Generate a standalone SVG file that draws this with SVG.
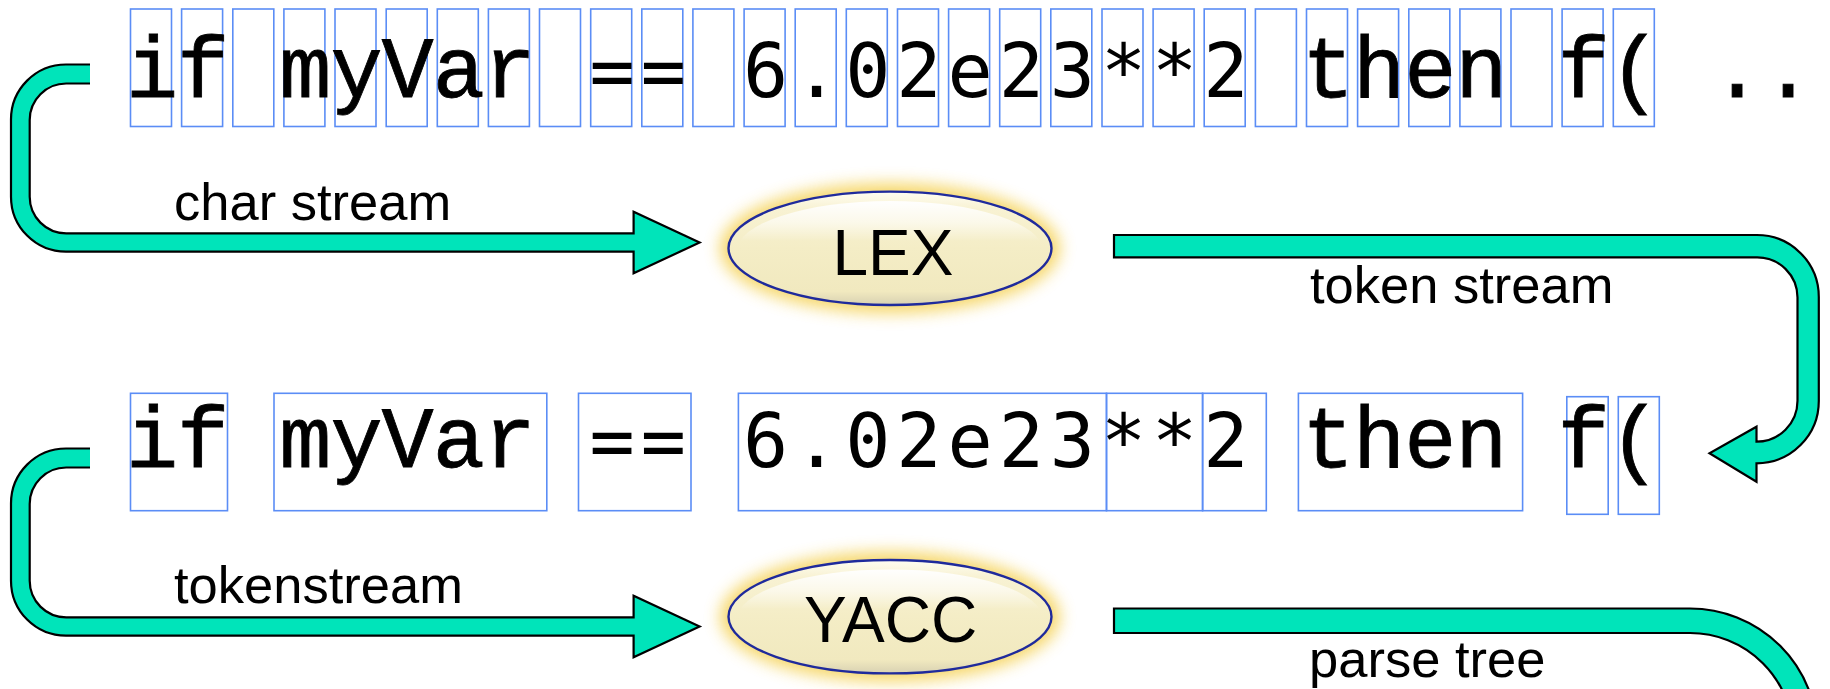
<svg xmlns="http://www.w3.org/2000/svg" width="1830" height="689" viewBox="0 0 1830 689">
  <style>
    .cell { fill: none; stroke: #5B8DF6; stroke-width: 1.6; }
    .mono { font-family: "Liberation Mono", "Courier New", monospace; font-size: 87px; fill: #000; stroke: #000; stroke-width: 0.8; text-anchor: middle; }
    .sans-mono { font-family: "DejaVu Sans Mono", monospace; font-size: 75px; fill: #000; text-anchor: middle; }
    .label { font-family: "Liberation Sans", Arial, sans-serif; font-size: 52.5px; fill: #000; }
    .proc-text { font-family: "Liberation Sans", Arial, sans-serif; font-size: 64px; fill: #000; text-anchor: middle; }
    .band { fill: #00E4BA; stroke: none; }
    .edge { fill: none; stroke: #000; stroke-width: 2.2; stroke-linejoin: miter; }
    .band-closed { fill: #00E4BA; stroke: #000; stroke-width: 2.2; stroke-linejoin: miter; }
    .proc { stroke: #1F2A9C; stroke-width: 2.4; fill: url(#procFill); }
    .halo { fill: #F5D35A; opacity: 0.9; filter: url(#glow); }
    .shine { fill: url(#shineFill); }
  </style>
  <defs>
    <filter id="glow" x="-25%" y="-50%" width="150%" height="200%">
      <feGaussianBlur stdDeviation="8"/>
    </filter>
    <linearGradient id="procFill" x1="0" y1="0" x2="0" y2="1">
      <stop offset="0" stop-color="#FFFDF2"/>
      <stop offset="0.15" stop-color="#F8F2D3"/>
      <stop offset="0.5" stop-color="#F4EDC6"/>
      <stop offset="0.88" stop-color="#F1E9BF"/>
      <stop offset="1" stop-color="#D8D1B2"/>
    </linearGradient>
    <linearGradient id="shineFill" x1="0" y1="0" x2="0" y2="1">
      <stop offset="0" stop-color="#FFFFFF" stop-opacity="0.95"/>
      <stop offset="0.22" stop-color="#FFFFFF" stop-opacity="0.55"/>
      <stop offset="0.4" stop-color="#FFFFFF" stop-opacity="0"/>
    </linearGradient>
  </defs>

  <rect width="1830" height="689" fill="#FFFFFF"/>

  <!-- connectors: thick teal block arrows -->
  <g id="connectors">
    <!-- char stream: source line to LEX -->
    <path class="band" d="M90,64.5 H66 A55,55 0 0 0 11,119.5 V196.7 A55,55 0 0 0 66,251.7 H633.6 V273.3 L699.6,242.5 L633.6,211.7 V233.3 H66.2 A36.5,36.5 0 0 1 29.7,196.8 V120 A36.5,36.5 0 0 1 66.2,83.5 H90 Z"/>
    <path class="edge" d="M90,64.5 H66 A55,55 0 0 0 11,119.5 V196.7 A55,55 0 0 0 66,251.7 H633.6 V273.3 L699.6,242.5 L633.6,211.7 V233.3 H66.2 A36.5,36.5 0 0 1 29.7,196.8 V120 A36.5,36.5 0 0 1 66.2,83.5 H90"/>
    <!-- token stream: LEX to token row -->
    <path class="band-closed" d="M1114,235 H1756.8 A62,62 0 0 1 1818.8,297 V401 A62.3,62.3 0 0 1 1756.5,463.3 V481.7 L1709.5,453.3 L1756.5,426.7 V441.7 A41,41 0 0 0 1797.5,400.7 V297.6 A40.3,40.3 0 0 0 1757.2,257.3 H1114 Z"/>
    <!-- tokenstream: token row to YACC -->
    <path class="band" d="M90,448.5 H66 A55,55 0 0 0 11,503.5 V580.7 A55,55 0 0 0 66,635.7 H633.6 V657.3 L699.6,626.5 L633.6,595.7 V617.3 H66.2 A36.5,36.5 0 0 1 29.7,580.8 V504 A36.5,36.5 0 0 1 66.2,467.5 H90 Z"/>
    <path class="edge" d="M90,448.5 H66 A55,55 0 0 0 11,503.5 V580.7 A55,55 0 0 0 66,635.7 H633.6 V657.3 L699.6,626.5 L633.6,595.7 V617.3 H66.2 A36.5,36.5 0 0 1 29.7,580.8 V504 A36.5,36.5 0 0 1 66.2,467.5 H90"/>
    <!-- parse tree: YACC onwards -->
    <path class="band-closed" d="M1114,608.5 H1690 A127.5,127.5 0 0 1 1817.5,736 V760 H1793 V736 A103,103 0 0 0 1690,633 H1114 Z"/>
  </g>

  <!-- connector labels -->
  <g id="labels">
    <text class="label" x="174" y="220">char stream</text>
    <text class="label" x="1310" y="303.3">token stream</text>
    <text class="label" x="174" y="603.3">tokenstream</text>
    <text class="label" x="1309" y="676.7">parse tree</text>
  </g>

  <!-- character stream: one cell per character -->
  <g id="char-row">
    <rect class="cell" x="130.5" y="9" width="41" height="117.5"/>
    <rect class="cell" x="181.6" y="9" width="41" height="117.5"/>
    <rect class="cell" x="232.8" y="9" width="41" height="117.5"/>
    <rect class="cell" x="283.9" y="9" width="41" height="117.5"/>
    <rect class="cell" x="335.0" y="9" width="41" height="117.5"/>
    <rect class="cell" x="386.2" y="9" width="41" height="117.5"/>
    <rect class="cell" x="437.3" y="9" width="41" height="117.5"/>
    <rect class="cell" x="488.4" y="9" width="41" height="117.5"/>
    <rect class="cell" x="539.5" y="9" width="41" height="117.5"/>
    <rect class="cell" x="590.7" y="9" width="41" height="117.5"/>
    <rect class="cell" x="641.8" y="9" width="41" height="117.5"/>
    <rect class="cell" x="692.9" y="9" width="41" height="117.5"/>
    <rect class="cell" x="744.1" y="9" width="41" height="117.5"/>
    <rect class="cell" x="795.2" y="9" width="41" height="117.5"/>
    <rect class="cell" x="846.3" y="9" width="41" height="117.5"/>
    <rect class="cell" x="897.5" y="9" width="41" height="117.5"/>
    <rect class="cell" x="948.6" y="9" width="41" height="117.5"/>
    <rect class="cell" x="999.7" y="9" width="41" height="117.5"/>
    <rect class="cell" x="1050.8" y="9" width="41" height="117.5"/>
    <rect class="cell" x="1102.0" y="9" width="41" height="117.5"/>
    <rect class="cell" x="1153.1" y="9" width="41" height="117.5"/>
    <rect class="cell" x="1204.2" y="9" width="41" height="117.5"/>
    <rect class="cell" x="1255.4" y="9" width="41" height="117.5"/>
    <rect class="cell" x="1306.5" y="9" width="41" height="117.5"/>
    <rect class="cell" x="1357.6" y="9" width="41" height="117.5"/>
    <rect class="cell" x="1408.8" y="9" width="41" height="117.5"/>
    <rect class="cell" x="1459.9" y="9" width="41" height="117.5"/>
    <rect class="cell" x="1511.0" y="9" width="41" height="117.5"/>
    <rect class="cell" x="1562.1" y="9" width="41" height="117.5"/>
    <rect class="cell" x="1613.3" y="9" width="41" height="117.5"/>
    <text class="mono" x="152 203.13 305.39 356.52 407.65 458.78 509.91" y="96.7">ifmyVar</text>
    <text class="sans-mono" x="612.17 663.3 765.56 816.69 867.82 918.95 970.08 1021.21 1072.34 1123.47 1174.6 1225.73" y="96.7">==6.02e23**2</text>
    <text class="mono" x="1327.99 1379.12 1430.25 1481.38 1583.64 1634.77 1737.03 1788.16" y="96.7">thenf(..</text>
  </g>

  <!-- token stream: one box per token -->
  <g id="token-row">
    <rect class="cell" x="130.5" y="393.3" width="97" height="117.4"/>
    <rect class="cell" x="274" y="393.3" width="272.8" height="117.4"/>
    <rect class="cell" x="578.5" y="393.3" width="112.5" height="117.4"/>
    <rect class="cell" x="738.4" y="393.3" width="368.1" height="117.4"/>
    <rect class="cell" x="1106.5" y="393.3" width="96.1" height="117.4"/>
    <rect class="cell" x="1202.6" y="393.3" width="63.7" height="117.4"/>
    <rect class="cell" x="1298.4" y="393.3" width="224.2" height="117.4"/>
    <rect class="cell" x="1566.8" y="396.7" width="41.4" height="117.6"/>
    <rect class="cell" x="1618.3" y="396.7" width="41" height="117.6"/>
    <text class="mono" x="152 203.13 305.39 356.52 407.65 458.78 509.91" y="466.7">ifmyVar</text>
    <text class="sans-mono" x="612.17 663.3 765.56 816.69 867.82 918.95 970.08 1021.21 1072.34 1123.47 1174.6 1225.73" y="466.7">==6.02e23**2</text>
    <text class="mono" x="1327.99 1379.12 1430.25 1481.38 1583.64 1634.77" y="466.7">thenf(</text>
  </g>

  <!-- lexer -->
  <g id="lex">
    <ellipse class="halo" cx="890" cy="248.3" rx="170" ry="65"/>
    <ellipse class="proc" cx="890" cy="248.3" rx="161.5" ry="56.7"/>
    <ellipse class="shine" cx="890" cy="251" rx="153" ry="50"/>
    <text class="proc-text" x="893" y="275">LEX</text>
  </g>

  <!-- parser -->
  <g id="yacc">
    <ellipse class="halo" cx="890" cy="616.7" rx="170" ry="65"/>
    <ellipse class="proc" cx="890" cy="616.7" rx="161.5" ry="56.7"/>
    <ellipse class="shine" cx="890" cy="619.4" rx="153" ry="50"/>
    <text class="proc-text" x="890.6" y="641.7">YACC</text>
  </g>
</svg>
